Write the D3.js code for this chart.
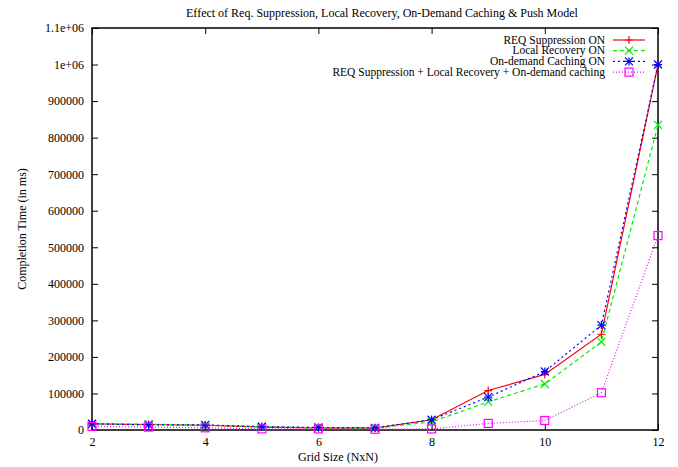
<!DOCTYPE html>
<html>
<head>
<meta charset="utf-8">
<script src="https://cdn.jsdelivr.net/npm/d3@7"></script>
<style>
  body { margin: 0; background: #fff; }
  svg text { font-family: "Liberation Serif", "Times New Roman", "DejaVu Serif", serif !important; fill: #000; }
</style>
</head>
<body>
<div class="container"></div>
<script>
const gridSizes = [2, 3, 4, 5, 6, 7, 8, 9, 10, 11, 12];
const reqSuppression = [17000, 15000, 13000, 8000, 6000, 5000, 28000, 108000, 152000, 262000, 1000000];
const localRecovery = [16000, 16000, 13000, 9000, 6000, 5000, 22000, 77000, 126000, 241000, 835000];
const onDemandCaching = [17000, 14000, 14000, 9000, 7000, 6000, 28000, 90000, 160000, 287000, 1000000];
const combined = [10000, 8000, 6000, 3000, 3000, 2000, 3000, 18000, 26000, 102000, 532000];
const seriesNames = [
  'REQ Suppression ON',
  'Local Recovery ON',
  'On-demand Caching ON',
  'REQ Suppression + Local Recovery + On-demand caching'
];
const xTicks = [2, 4, 6, 8, 10, 12];
const yTicks = [0, 100000, 200000, 300000, 400000, 500000, 600000, 700000, 800000, 900000, 1000000, 1100000];
const yTickLabels = ['0', '100000', '200000', '300000', '400000', '500000', '600000', '700000', '800000', '900000', '1e+06', '1.1e+06'];

let margin = { top: 28, right: 20, bottom: 37, left: 92 };
let width = 678 - margin.left - margin.right;
let height = 467 - margin.top - margin.bottom;

let svg = d3
  .select('.container')
  .append('svg')
  .attr('width', 678)
  .attr('height', 467)
  .attr('font-family', 'Liberation Serif')
  .append('g')
  .attr('transform', 'translate(' + margin.left + ',' + margin.top + ')');

let x = d3.scaleLinear().domain([2, 12]).range([0, width]);
let y = d3.scaleLinear().domain([0, 1100000]).range([height, 0]);

// ticks (inward, mirrored like gnuplot)
svg
  .append('g')
  .attr('transform', 'translate(0,' + height + ')')
  .call(d3.axisBottom(x).tickValues(xTicks).tickSizeInner(-6).tickSizeOuter(0).tickPadding(7).tickFormat(d3.format('d')))
  .call((g) => g.attr('font-family', null).select('.domain').remove())
  .call((g) => g.selectAll('text').style('font-size', '12px'));

svg
  .append('g')
  .call(d3.axisTop(x).tickValues(xTicks).tickSizeInner(-6).tickSizeOuter(0).tickFormat(''))
  .call((g) => g.select('.domain').remove());

svg
  .append('g')
  .call(d3.axisLeft(y).tickValues(yTicks).tickSizeInner(-6).tickSizeOuter(0).tickPadding(8).tickFormat((d, i) => yTickLabels[i]))
  .call((g) => g.attr('font-family', null).select('.domain').remove())
  .call((g) => g.selectAll('text').style('font-size', '12px'));

svg
  .append('g')
  .attr('transform', 'translate(' + width + ',0)')
  .call(d3.axisRight(y).tickValues(yTicks).tickSizeInner(-6).tickSizeOuter(0).tickFormat(''))
  .call((g) => g.select('.domain').remove());

svg
  .append('rect')
  .attr('width', width)
  .attr('height', height)
  .attr('fill', 'none')
  .attr('stroke', '#000')
  .attr('stroke-width', 1.5);

let series = [
  { name: seriesNames[0], values: reqSuppression, color: '#ff0000', dash: null, marker: 'plus' },
  { name: seriesNames[1], values: localRecovery, color: '#00ee00', dash: '4,3', marker: 'cross' },
  { name: seriesNames[2], values: onDemandCaching, color: '#0000ff', dash: '2,3', marker: 'star' },
  { name: seriesNames[3], values: combined, color: '#ff00ff', dash: '1,2', marker: 'square' }
];

let line = d3
  .line()
  .x((d, i) => x(gridSizes[i]))
  .y((d) => y(d));

function drawMarker(g, type, cx, cy, color) {
  let s = 4;
  if (type === 'plus' || type === 'star') {
    g.append('path').attr('d', `M${cx - s},${cy}H${cx + s}M${cx},${cy - s}V${cy + s}`).attr('stroke', color).attr('stroke-width', 1.2);
  }
  if (type === 'cross' || type === 'star') {
    g.append('path').attr('d', `M${cx - s},${cy - s}L${cx + s},${cy + s}M${cx - s},${cy + s}L${cx + s},${cy - s}`).attr('stroke', color).attr('stroke-width', 1.2);
  }
  if (type === 'square') {
    g.append('rect').attr('x', cx - 4).attr('y', cy - 4).attr('width', 8).attr('height', 8).attr('fill', 'none').attr('stroke', color).attr('stroke-width', 1.2);
  }
}

series.forEach((s) => {
  svg
    .append('path')
    .datum(s.values)
    .attr('d', line)
    .attr('fill', 'none')
    .attr('stroke', s.color)
    .attr('stroke-width', 1.2)
    .attr('stroke-dasharray', s.dash);
  let mg = svg.append('g');
  s.values.forEach((v, i) => drawMarker(mg, s.marker, x(gridSizes[i]), y(v), s.color));
});

// legend
let legend = svg.append('g').attr('transform', 'translate(' + (605 - margin.left) + ',' + (40 - margin.top) + ')');
series.forEach((s, i) => {
  let ly = i * 10.7;
  legend
    .append('text')
    .attr('x', 0)
    .attr('y', ly)
    .attr('dy', '0.33em')
    .attr('text-anchor', 'end')
    .style('font-size', '11.5px')
    .text(s.name);
  legend
    .append('line')
    .attr('x1', 8)
    .attr('x2', 40)
    .attr('y1', ly)
    .attr('y2', ly)
    .attr('stroke', s.color)
    .attr('stroke-width', 1.2)
    .attr('stroke-dasharray', s.dash);
  drawMarker(legend, s.marker, 24, ly, s.color);
});

// titles
let root = d3.select('svg');
root
  .append('text')
  .attr('x', 382)
  .attr('y', 17)
  .attr('text-anchor', 'middle')
  .style('font-size', '12px')
  .text('Effect of Req. Suppression, Local Recovery, On-Demand Caching & Push Model');

root
  .append('text')
  .attr('x', 338)
  .attr('y', 461)
  .attr('text-anchor', 'middle')
  .style('font-size', '12px')
  .text('Grid Size (NxN)');

root
  .append('text')
  .attr('transform', 'translate(26,229) rotate(-90)')
  .attr('text-anchor', 'middle')
  .style('font-size', '12px')
  .text('Completion Time (in ms)');
</script>
</body>
</html>
